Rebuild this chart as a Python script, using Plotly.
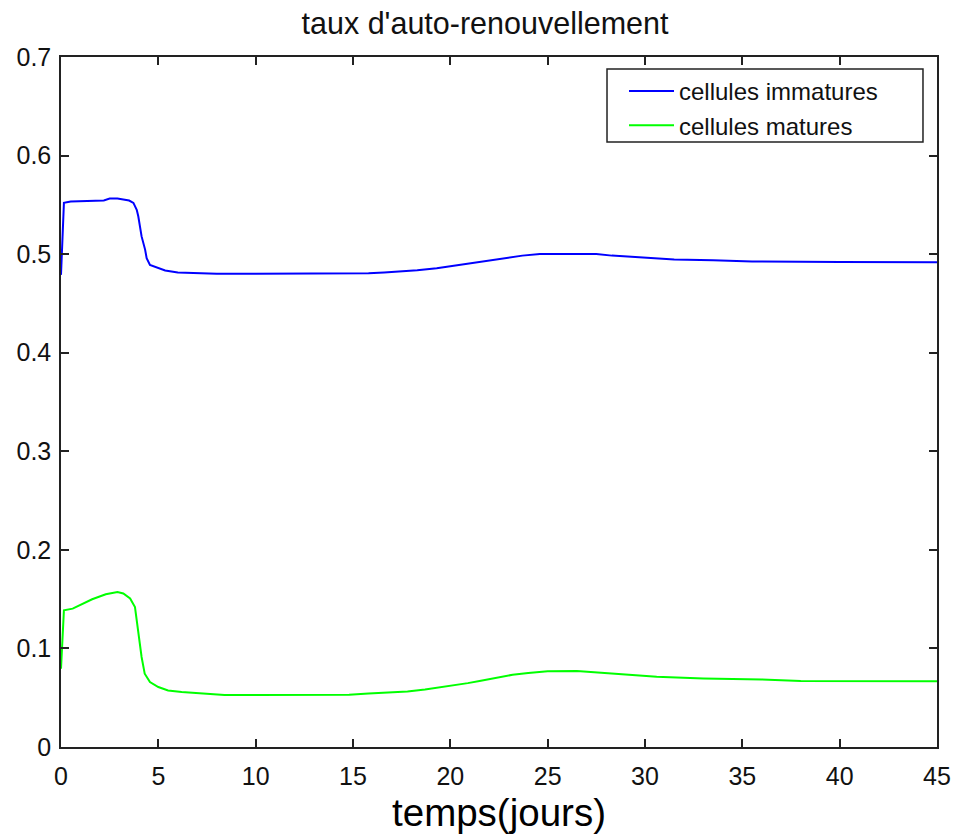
import plotly.graph_objects as go

# time (days)
t_imm = [0, 0.15, 0.5, 1.0, 1.6, 2.2, 2.5, 2.9, 3.2, 3.5, 3.72, 3.89, 3.97, 4.06, 4.14,
         4.32, 4.4, 4.57, 4.83, 5.35, 6.0, 6.5, 8, 10, 12, 14, 15.8, 16.6, 17.4, 18.3,
         19.3, 20.1, 20.8, 21.5, 22.1, 22.9, 23.7, 24.6, 26.0, 27.5, 28.3, 29.9, 31.5,
         33.5, 35.5, 40, 45]
v_imm = [0.479, 0.552, 0.5535, 0.5537, 0.5537, 0.5545, 0.5564, 0.5564, 0.5555, 0.5544, 0.552,
         0.545, 0.5384, 0.528, 0.518, 0.5046, 0.496, 0.489, 0.487, 0.4835, 0.4815, 0.481,
         0.4802, 0.480, 0.480, 0.480, 0.4805, 0.4815, 0.4825, 0.4837, 0.4858, 0.488, 0.490,
         0.492, 0.494, 0.4962, 0.4985, 0.5002, 0.5004, 0.5002, 0.4985, 0.4965, 0.4945,
         0.4938, 0.4925, 0.492, 0.4918]

t_mat = [0, 0.15, 0.6, 1.1, 1.6, 2.3, 2.9, 3.2, 3.55, 3.8, 3.89, 3.97, 4.14, 4.3, 4.57,
         5.0, 5.5, 6.2, 7.4, 8.4, 10, 12, 14.8, 15.8, 16.9, 17.8, 18.7, 19.5, 20.3, 20.9,
         21.5, 22.1, 22.7, 23.2, 24.0, 25.0, 26.5, 27.7, 29.0, 30.6, 33, 36, 38, 42, 45]
v_mat = [0.0795, 0.1387, 0.1404, 0.1455, 0.1499, 0.155, 0.1573, 0.1557, 0.1506, 0.142,
         0.1286, 0.1116, 0.0913, 0.0744, 0.0659, 0.0608, 0.0574, 0.0557, 0.054, 0.0527,
         0.0527, 0.0527, 0.0530, 0.0544, 0.0552, 0.0564, 0.0584, 0.0605, 0.0628, 0.0648,
         0.0669, 0.0689, 0.0713, 0.0733, 0.075, 0.0768, 0.077, 0.0755, 0.0735, 0.0713,
         0.0695, 0.0685, 0.0669, 0.0667, 0.0667]

series_names = ["cellules immatures", "cellules matures"]
title_text = "taux d'auto-renouvellement"
xlabel = "temps(jours)"
x_ticks = [0, 5, 10, 15, 20, 25, 30, 35, 40, 45]
y_ticks = [0, 0.1, 0.2, 0.3, 0.4, 0.5, 0.6, 0.7]
y_ticklabels = ["0", "0.1", "0.2", "0.3", "0.4", "0.5", "0.6", "0.7"]

FONT = "Liberation Sans, Arial, sans-serif"

fig = go.Figure()
fig.add_trace(go.Scatter(x=t_imm, y=v_imm, mode="lines", name=series_names[0],
                         line=dict(color="#0000FF", width=2)))
fig.add_trace(go.Scatter(x=t_mat, y=v_mat, mode="lines", name=series_names[1],
                         line=dict(color="#00FF00", width=2)))

axis_common = dict(showgrid=False, zeroline=False, showline=True, linecolor="#222222",
                   linewidth=1.5, mirror="ticks", ticks="inside", ticklen=8,
                   tickcolor="#222222", tickwidth=1.5, automargin=False,
                   tickfont=dict(family=FONT, size=25, color="#111111"))

# legend frame (paper coordinates)
fig.add_shape(type="rect", xref="paper", yref="paper",
              x0=0.6233, x1=0.984, y0=0.8768, y1=0.9826,
              line=dict(color="#222222", width=1.5), fillcolor="white", layer="above")

fig.update_layout(
    width=953, height=834,
    paper_bgcolor="white", plot_bgcolor="white",
    margin=dict(l=61, r=16, t=57, b=87, autoexpand=False),
    title=dict(text=title_text, x=485 / 953, xref="container", xanchor="center",
               y=1 - 23 / 834, yref="container", yanchor="middle", automargin=False,
               font=dict(family=FONT, size=30.5, color="#111111")),
    xaxis=dict(range=[0, 45], tickvals=x_ticks, ticklabelstandoff=6, **axis_common,
               title=dict(text=xlabel, font=dict(family=FONT, size=38.5, color="#000000"),
                          standoff=22)),
    yaxis=dict(range=[0, 0.7], tickvals=y_ticks, ticktext=y_ticklabels,
               ticklabelstandoff=3, **axis_common),
    legend=dict(x=0.6427, y=0.9826, xanchor="left", yanchor="top",
                bgcolor="rgba(0,0,0,0)", borderwidth=0,
                font=dict(family=FONT, size=24, color="#111111"),
                itemwidth=45, tracegroupgap=0),
    showlegend=True,
)

fig.write_html("out.html", config={"displayModeBar": False},
               post_script="document.body.style.margin='0px';")
